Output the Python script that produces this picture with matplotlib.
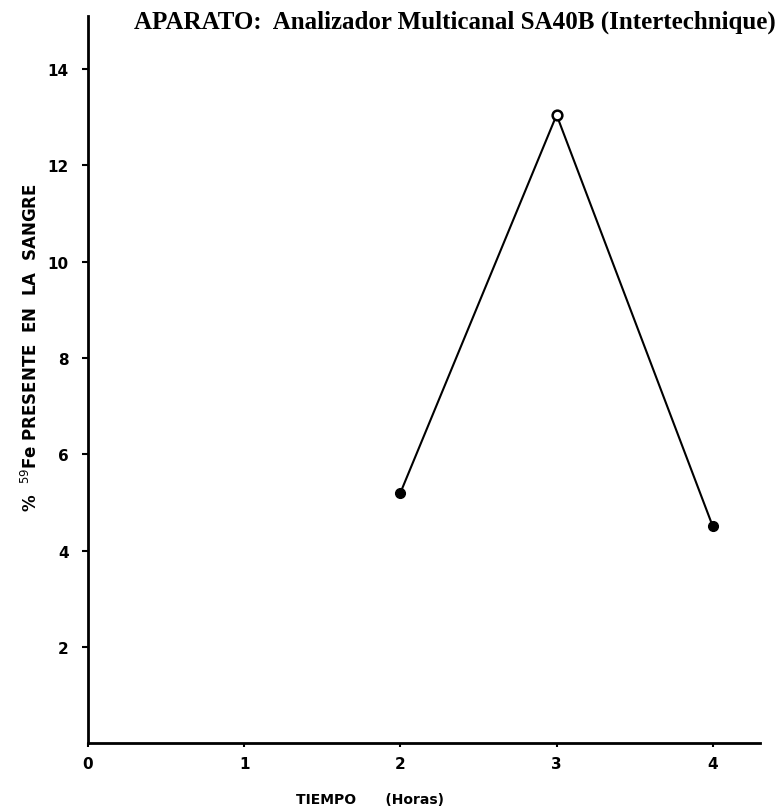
import matplotlib
matplotlib.use('Agg')
import matplotlib.pyplot as plt

# data
tiempo = [2, 3, 4]
fe59_pct = [5.2, 13.05, 4.5]

x_ticks = [0, 1, 2, 3, 4]
y_ticks = [2, 4, 6, 8, 10, 12, 14]

TITLE = 'APARATO:  Analizador Multicanal SA40B (Intertechnique)'
XLABEL = 'TIEMPO      (Horas)'
YLABEL = r'%  $^{59}$Fe PRESENTE  EN  LA  SANGRE'

fig = plt.figure(figsize=(7.81, 8.12), dpi=100)
ax = fig.add_axes([0.1127, 0.0837, 0.860, 0.895])

ax.plot(tiempo, fe59_pct, color='black', linewidth=1.5, zorder=2)
ax.plot(tiempo[0::2], fe59_pct[0::2], 'o', color='black', markersize=7, zorder=3)
ax.plot(tiempo[1], fe59_pct[1], 'o', markerfacecolor='white',
        markeredgecolor='black', markeredgewidth=1.8, markersize=7, zorder=3)

ax.set_xlim(0, 4.3)
ax.set_ylim(0, 15.1)
ax.set_xticks(x_ticks)
ax.set_yticks(y_ticks)

for side in ('top', 'right'):
    ax.spines[side].set_visible(False)
for side in ('left', 'bottom'):
    ax.spines[side].set_linewidth(2.0)

ax.tick_params(axis='y', direction='out', length=4, width=1.5, pad=10,
               labelsize=11)
ax.tick_params(axis='x', direction='out', length=3, width=1.5, pad=6,
               labelsize=11)
for lbl in ax.get_xticklabels() + ax.get_yticklabels():
    lbl.set_fontweight('bold')

ax.set_xlabel(XLABEL, fontsize=10, fontweight='bold')
ax.set_ylabel(YLABEL, fontsize=12, fontweight='bold')
ax.yaxis.set_label_coords(-0.07, 0.546)
ax.xaxis.set_label_coords(0.42, -0.068)

fig.text(0.171, 0.972, TITLE, ha='left', va='center', fontsize=18,
         fontweight='bold', family='Liberation Serif')

fig.savefig('out.png', dpi=100)
